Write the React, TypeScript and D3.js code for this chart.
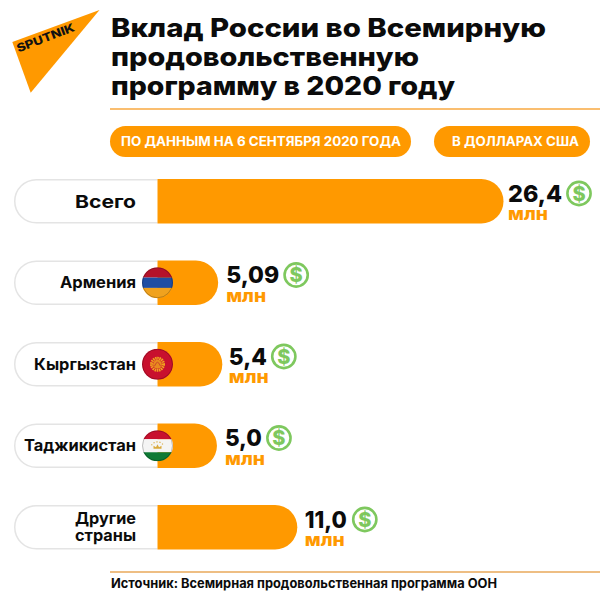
import * as d3 from "d3";

const categories = ["Всего", "Армения", "Кыргызстан", "Таджикистан", "Другие страны"];
const values = [26.4, 5.09, 5.4, 5.0, 11.0];
const valueLabels = ["26,4", "5,09", "5,4", "5,0", "11,0"];
const titleLines = ["Вклад России во Всемирную", "продовольственную", "программу в 2020 году"];

const ORANGE = "#ff9900";
const GREEN = "#7ec85e";
const FONT = "Inter, 'Open Sans', sans-serif";

// measured text widths, the reference font isn't installed so everything gets fitted
const textWidth: Record<string, number> = {
  "Вклад России во Всемирную": 435,
  "продовольственную": 308,
  "программу в 2020 году": 344,
  "ПО ДАННЫМ НА 6 СЕНТЯБРЯ 2020 ГОДА": 280,
  "В ДОЛЛАРАХ США": 127,
  "Всего": 61,
  "Армения": 76,
  "Кыргызстан": 102,
  "Таджикистан": 112,
  "Другие": 61,
  "страны": 61,
  "26,4": 54,
  "5,09": 53,
  "5,4": 38,
  "5,0": 37,
  "11,0": 42,
  "млн": 40,
  "Источник: Всемирная продовольственная программа ООН": 386,
};

function Txt(props: {
  x: number;
  y: number;
  size: number;
  weight?: number;
  fill?: string;
  anchor?: "start" | "end";
  children: string;
}) {
  const { x, y, size, weight = 700, fill = "#0b0b0b", anchor = "start", children } = props;
  return (
    <text
      x={x}
      y={y}
      fontSize={size}
      fontWeight={weight}
      fontFamily={FONT}
      fill={fill}
      textAnchor={anchor}
      textLength={textWidth[children]}
      lengthAdjust="spacingAndGlyphs"
    >
      {children}
    </text>
  );
}

function DollarIcon({ cx, cy }: { cx: number; cy: number }) {
  return (
    <g>
      <circle cx={cx} cy={cy} r={11.6} fill="#fff" stroke={GREEN} strokeWidth={2.6} />
      <text x={cx} y={cy + 7} textAnchor="middle" fontSize={20} fontWeight={800} fontFamily={FONT} fill={GREEN}>
        $
      </text>
    </g>
  );
}

function Flag({ name, cx, cy }: { name: string; cx: number; cy: number }) {
  const r = 15.5;
  const id = `clip-${cx}-${cy}`;
  const stripe = (colors: string[], heights: number[]) => {
    let y = cy - r;
    return colors.map((c, i) => {
      const h = heights[i] * 2 * r;
      const el = <rect key={c} x={cx - r} y={y} width={2 * r} height={h} fill={c} />;
      y += h;
      return el;
    });
  };
  let inner = null;
  if (name === "Армения") {
    inner = stripe(["#b5122a", "#1f4ea3", "#f0a21e"], [1 / 3, 1 / 3, 1 / 3]);
  } else if (name === "Кыргызстан") {
    inner = (
      <g>
        <rect x={cx - r} y={cy - r} width={2 * r} height={2 * r} fill="#c8102e" />
        <circle cx={cx} cy={cy} r={6} fill="none" stroke="#f0a21e" strokeWidth={3} strokeDasharray="1.5 0.6" />
        <circle cx={cx} cy={cy} r={4.4} fill="#e88a1e" />
        <path
          d={`M${cx - 3},${cy + 2} Q${cx},${cy - 6} ${cx + 3},${cy + 2}`}
          fill="none"
          stroke="#c8402e"
          strokeWidth={0.9}
        />
      </g>
    );
  } else if (name === "Таджикистан") {
    inner = (
      <g>
        {stripe(["#c8102e", "#f4f4f4", "#0f7a35"], [0.29, 0.42, 0.29])}
        <path
          d={`M${cx - 4},${cy + 3} L${cx - 4},${cy} L${cx - 1.5},${cy + 1.5} L${cx},${cy - 1.5} L${cx + 1.5},${cy + 1.5} L${cx + 4},${cy} L${cx + 4},${cy + 3} Z`}
          fill="#d9a93c"
        />
        <path
          d={`M${cx - 6},${cy - 0.5} A7,7 0 0 1 ${cx + 6},${cy - 0.5}`}
          fill="none"
          stroke="#d9a93c"
          strokeWidth={1.1}
          strokeDasharray="1.2 1.8"
        />
      </g>
    );
  }
  return (
    <g>
      <clipPath id={id}>
        <circle cx={cx} cy={cy} r={r} />
      </clipPath>
      <g clipPath={`url(#${id})`}>{inner}</g>
      <circle cx={cx} cy={cy} r={r - 0.5} fill="none" stroke="#000" strokeOpacity={0.22} strokeWidth={1} />
    </g>
  );
}

export default function App() {
  const x0 = 157.5;
  const barH = 44.5;
  // the bars in the picture are not zero based at the track edge, zero sits a bit left of it
  const x = d3.scaleLinear().domain([0, 26.4]).range([150, 503.5]);
  const y = d3.scalePoint<string>().domain(categories).range([179, 505]);
  const r = barH / 2;
  const valueGap = [4.5, 8, 6.5, 8, 7.5];

  return (
    <svg width={600} height={600} style={{ position: "absolute", left: 0, top: 0, background: "#fff" }}>
      {/* logo */}
      <polygon points="12.3,42 99.5,10 30.7,92.7" fill={ORANGE} />
      <text
        transform="translate(18.5,52.5) rotate(-21)"
        fontSize={11.5}
        fontWeight={800}
        fontFamily={FONT}
        fill="#111"
        textLength={61}
        lengthAdjust="spacingAndGlyphs"
      >
        SPUTNIK
      </text>

      {titleLines.map((line, i) => (
        <Txt key={line} x={111} y={37 + i * 29} size={26} weight={800}>
          {line}
        </Txt>
      ))}
      <line x1={110} x2={600} y1={109} y2={109} stroke="#f8a840" strokeWidth={1.6} />

      <rect x={110} y={126} width={301} height={31} rx={15.5} fill={ORANGE} />
      <rect x={434} y={126} width={156} height={31} rx={15.5} fill={ORANGE} />
      <Txt x={121} y={146} size={13} fill="#fff">
        ПО ДАННЫМ НА 6 СЕНТЯБРЯ 2020 ГОДА
      </Txt>
      <Txt x={452} y={146} size={13} fill="#fff">
        В ДОЛЛАРАХ США
      </Txt>

      {categories.map((cat, i) => {
        const top = y(cat)!;
        const end = x(values[i]);
        const mid = top + r;
        const hasFlag = i >= 1 && i <= 3;
        const words = cat.split(" ");
        const textX = end + valueGap[i];
        const iconX = textX + textWidth[valueLabels[i]] + (i === 4 ? 18 : 17);
        return (
          <g key={cat}>
            <path
              d={`M${x0},${top + 0.75} H${14 + r} A${r - 0.75},${r - 0.75} 0 0 0 ${14 + r},${top + barH - 0.75} H${x0}`}
              fill="#fff"
              stroke="#e4e4e4"
              strokeWidth={1.5}
            />
            <path
              d={`M${x0},${top} H${end - r} A${r},${r} 0 0 1 ${end - r},${top + barH} H${x0} Z`}
              fill={ORANGE}
            />
            {hasFlag && <Flag name={cat} cx={x0} cy={mid} />}
            {words.length === 1 ? (
              <Txt x={136} y={mid + (i === 0 ? 6.5 : 5.5)} size={i === 0 ? 18 : 16} anchor="end">
                {cat}
              </Txt>
            ) : (
              words.map((w, k) => (
                <Txt key={w} x={136} y={mid - 3 + k * 16.5} size={16} anchor="end">
                  {w}
                </Txt>
              ))
            )}
            <Txt x={textX} y={top + 22.5} size={23.5} weight={800}>
              {valueLabels[i]}
            </Txt>
            <Txt x={textX} y={top + 41} size={18} weight={800} fill={ORANGE}>
              млн
            </Txt>
            <DollarIcon cx={iconX} cy={top + 14.5} />
          </g>
        );
      })}

      <line x1={110} x2={600} y1={572} y2={572} stroke="#e8a85a" strokeWidth={1.6} />
      <Txt x={111} y={588} size={13}>
        Источник: Всемирная продовольственная программа ООН
      </Txt>
    </svg>
  );
}
